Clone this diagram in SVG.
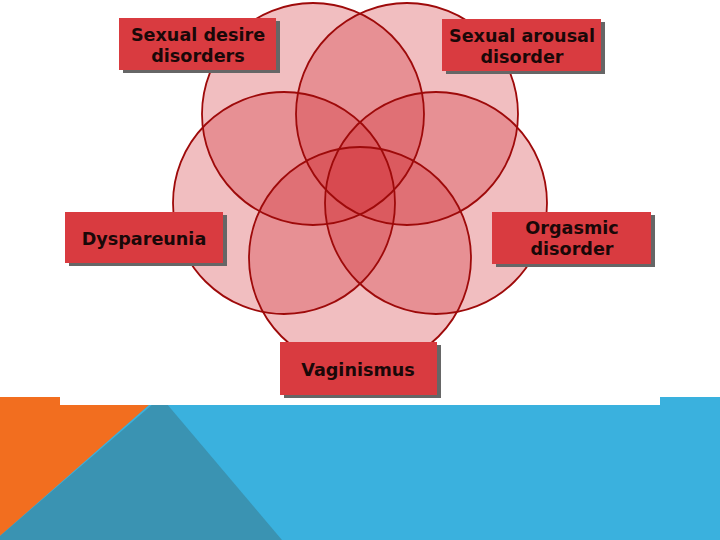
<svg xmlns="http://www.w3.org/2000/svg" width="720" height="540" viewBox="0 0 720 540">
<style>
.f{fill:#d2282d;fill-opacity:0.3;stroke:none}
.s{fill:none;stroke:#9e0a0a;stroke-width:1.8}
.sh{fill:#666666}
.bx{fill:#d93b40}
.t{font-family:"DejaVu Sans",Verdana,sans-serif;font-weight:bold;font-size:17.6px;fill:#1a0808;text-anchor:middle}
</style>
<defs>
<circle id="c1" cx="313" cy="114" r="111"/>
<circle id="c2" cx="407" cy="114" r="111"/>
<circle id="c3" cx="436" cy="203" r="111"/>
<circle id="c4" cx="360" cy="258" r="111"/>
<circle id="c5" cx="284" cy="203" r="111"/>
</defs>
<rect width="720" height="540" fill="#ffffff"/>
<g id="background">
<rect x="0" y="397" width="720" height="143" fill="#3ab1de"/>
<polygon points="0,397 158,397 0,536" fill="#f26e1f"/>
<polygon points="161,397 282,540 0,540 0,536" fill="#3a93b2"/>
<rect x="60" y="380" width="600" height="25" fill="#ffffff"/>
</g>
<g id="circles">
<use href="#c1" class="f"/>
<use href="#c2" class="f"/>
<use href="#c3" class="f"/>
<use href="#c4" class="f"/>
<use href="#c5" class="f"/>
<use href="#c1" class="s"/>
<use href="#c2" class="s"/>
<use href="#c3" class="s"/>
<use href="#c4" class="s"/>
<use href="#c5" class="s"/>
</g>
<g id="connectors"></g>
<g id="n-desire">
<rect class="sh" x="123" y="21" width="157" height="52"/>
<rect class="bx" x="119" y="18" width="157" height="52"/>
<text class="t" x="198" y="41">Sexual desire</text>
<text class="t" x="198" y="62">disorders</text>
</g>
<g id="n-arousal">
<rect class="sh" x="446" y="22" width="159" height="52"/>
<rect class="bx" x="442" y="19" width="159" height="52"/>
<text class="t" x="522" y="42">Sexual arousal</text>
<text class="t" x="522" y="63">disorder</text>
</g>
<g id="n-dyspareunia">
<rect class="sh" x="69" y="215" width="158" height="51"/>
<rect class="bx" x="65" y="212" width="158" height="51"/>
<text class="t" x="144" y="245">Dyspareunia</text>
</g>
<g id="n-orgasmic">
<rect class="sh" x="496" y="215" width="159" height="52"/>
<rect class="bx" x="492" y="212" width="159" height="52"/>
<text class="t" x="572" y="234">Orgasmic</text>
<text class="t" x="572" y="255">disorder</text>
</g>
<g id="n-vaginismus">
<rect class="sh" x="284" y="345" width="157" height="53"/>
<rect class="bx" x="280" y="342" width="157" height="53"/>
<text class="t" x="358" y="376">Vaginismus</text>
</g>
</svg>
